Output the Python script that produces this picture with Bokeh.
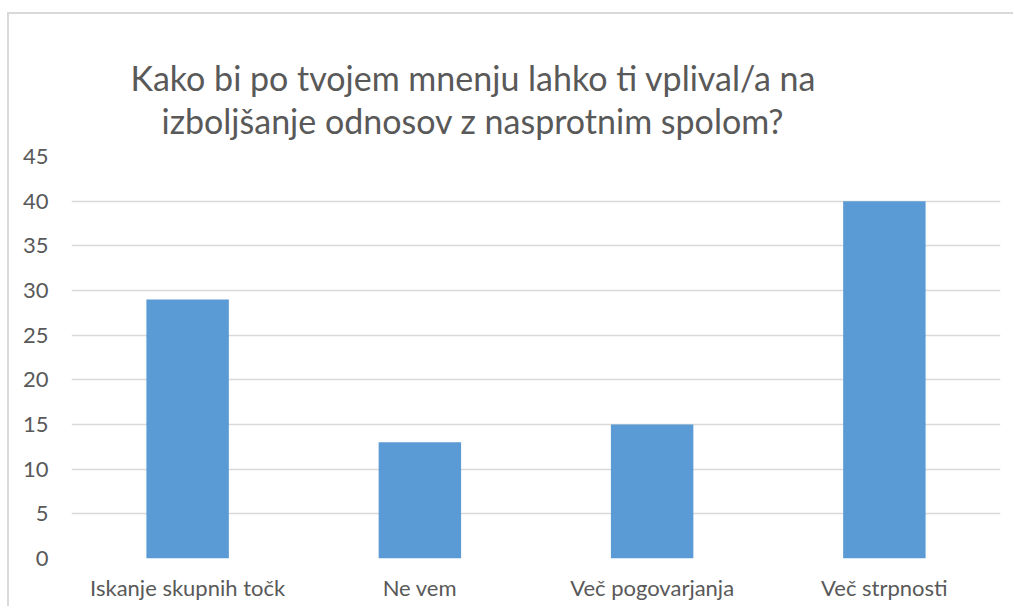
from bokeh.plotting import figure
from bokeh.models import Range1d, SingleIntervalTicker, Title
from bokeh.embed import file_html
from bokeh.resources import INLINE

categories = ["Iskanje skupnih točk", "Ne vem", "Več pogovarjanja", "Več strpnosti"]
values = [29, 13, 15, 40]
title_lines = ["Kako bi po tvojem mnenju lahko ti vplival/a na",
               "izboljšanje odnosov z nasprotnim spolom?"]

FONT = "Lato"
GRAY = "#595959"

p = figure(x_range=categories, y_range=Range1d(0, 45), width=1006, height=594,
           output_backend="svg", toolbar_location=None,
           min_border_left=62, min_border_right=15, min_border_top=142, min_border_bottom=50)
p.styles = {"border-top": "2px solid #d9d9d9", "border-left": "2px solid #d9d9d9",
            "margin-top": "12px", "margin-left": "7px"}

p.vbar(x=categories, top=values, width=0.355, color="#5B9BD5", line_color=None)

p.outline_line_color = None
p.background_fill_color = "white"
p.border_fill_color = "white"
p.xgrid.grid_line_color = None
p.ygrid.grid_line_color = "#D9D9D9"
p.ygrid.grid_line_width = 1.3
p.yaxis.ticker = SingleIntervalTicker(interval=5)

for ax in (p.xaxis[0], p.yaxis[0]):
    ax.axis_line_color = None
    ax.major_tick_line_color = None
    ax.minor_tick_line_color = None
    ax.major_label_text_font = FONT
    ax.major_label_text_color = GRAY
    ax.major_label_text_font_size = "22px"
p.yaxis.major_label_standoff = 17
p.xaxis.major_label_standoff = 9

def style_title(t, standoff, offset):
    t.align = "left"
    t.offset = offset
    t.text_font = FONT
    t.text_font_size = "34px"
    t.text_font_style = "normal"
    t.text_color = GRAY
    t.text_line_height = 1.0
    t.standoff = standoff

# p.title is the farther (upper) line; the added title sits next to the frame
p.title.text = title_lines[0]
style_title(p.title, -30, 59)
t2 = Title(text=title_lines[1])
style_title(t2, 31, 90)
p.add_layout(t2, "above")

open("out.html", "w").write(file_html(p, INLINE))
